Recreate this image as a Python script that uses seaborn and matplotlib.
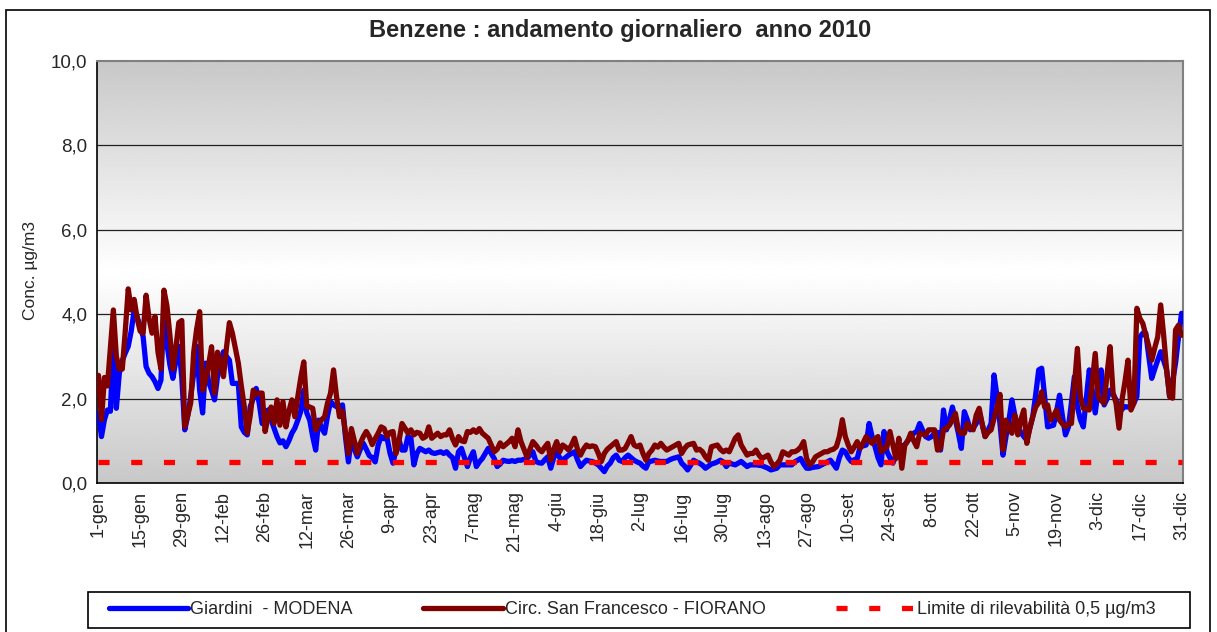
import numpy as np
import pandas as pd
import matplotlib
matplotlib.use("Agg")
import matplotlib.pyplot as plt
import seaborn as sns
from matplotlib.patches import Rectangle
from matplotlib.lines import Line2D
from matplotlib.ticker import FuncFormatter, MultipleLocator

sns.set_style("white")
plt.rcParams['font.family'] = ['Liberation Sans', 'DejaVu Sans']

title = "Benzene : andamento giornaliero  anno 2010"
ylabel = "Conc. µg/m3"
tick_labels = ["1-gen", "15-gen", "29-gen", "12-feb", "26-feb", "12-mar", "26-mar",
               "9-apr", "23-apr", "7-mag", "21-mag", "4-giu", "18-giu", "2-lug",
               "16-lug", "30-lug", "13-ago", "27-ago", "10-set", "24-set", "8-ott",
               "22-ott", "5-nov", "19-nov", "3-dic", "17-dic", "31-dic"]
name_modena = "Giardini  - MODENA"
name_fiorano = "Circ. San Francesco - FIORANO"
name_limit = "Limite di rilevabilità 0,5 µg/m3"
limit_value = 0.5

modena = [
    1.66, 1.1, 1.5, 1.73, 1.7, 3.31, 1.77, 2.6, 2.9, 3.08,
    3.24, 3.6, 4.1, 3.94, 3.7, 3.47, 2.76, 2.6, 2.52, 2.4,
    2.24, 2.44, 4.2, 3.3, 2.8, 2.48, 2.9, 3.24, 2.5, 1.26,
    1.6, 2.05, 2.6, 3.24, 2.2, 1.66, 2.84, 2.4, 2.2, 1.97,
    2.52, 2.8, 3.11, 3.0, 2.91, 2.36, 2.36, 2.36, 1.33, 1.2,
    1.14, 1.81, 2.0, 2.24, 1.9, 1.41, 1.5, 1.73, 1.5, 1.3,
    1.1, 0.95, 1.0, 0.86, 1.0, 1.18, 1.3, 1.49, 1.7, 2.2,
    1.66, 1.49, 1.1, 0.78, 1.49, 1.3, 1.18, 1.6, 1.93, 1.85,
    1.81, 1.8, 1.85, 1.1, 0.5, 1.1, 0.8, 0.62, 0.8, 0.94,
    0.8, 0.65, 0.6, 0.5, 0.9, 1.1, 1.05, 1.06, 0.7, 0.47,
    0.8, 1.02, 0.78, 0.78, 1.1, 1.06, 0.43, 0.7, 0.82, 0.78,
    0.74, 0.78, 0.72, 0.7, 0.72, 0.74, 0.7, 0.74, 0.66, 0.6,
    0.35, 0.74, 0.82, 0.6, 0.39, 0.6, 0.74, 0.39, 0.5, 0.58,
    0.7, 0.82, 0.7, 0.58, 0.39, 0.45, 0.54, 0.52, 0.51, 0.53,
    0.51, 0.54, 0.54, 0.56, 0.58, 0.66, 0.74, 0.51, 0.48, 0.47,
    0.55, 0.62, 0.35, 0.6, 0.74, 0.6, 0.54, 0.6, 0.66, 0.7,
    0.74, 0.55, 0.39, 0.47, 0.54, 0.52, 0.51, 0.47, 0.43, 0.35,
    0.27, 0.4, 0.47, 0.6, 0.66, 0.54, 0.51, 0.6, 0.66, 0.6,
    0.54, 0.5, 0.47, 0.4, 0.35, 0.51, 0.52, 0.54, 0.52, 0.51,
    0.51, 0.51, 0.55, 0.58, 0.6, 0.62, 0.47, 0.4, 0.31, 0.42,
    0.54, 0.5, 0.47, 0.42, 0.35, 0.4, 0.45, 0.47, 0.5, 0.54,
    0.5, 0.39, 0.47, 0.45, 0.43, 0.47, 0.51, 0.45, 0.39, 0.43,
    0.43, 0.43, 0.42, 0.41, 0.38, 0.35, 0.31, 0.33, 0.35, 0.43,
    0.43, 0.43, 0.43, 0.43, 0.5, 0.54, 0.58, 0.45, 0.35, 0.35,
    0.37, 0.38, 0.39, np.nan, np.nan, np.nan, 0.54, 0.45, 0.35, 0.6,
    0.78, 0.74, 0.6, 0.51, 0.55, 0.58, 0.86, 0.88, 0.9, 1.41,
    1.1, 0.86, 0.6, 0.43, 1.22, 0.74, 0.6, 0.47, 0.65, 0.86,
    0.88, 0.9, 1.0, 1.1, 1.18, 1.22, 1.41, 1.25, 1.1, 1.06,
    1.1, 1.18, 1.2, 0.78, 1.73, 1.26, 1.5, 1.8, 1.5, 1.18,
    0.82, 1.69, 1.5, 1.26, 1.3, 1.41, 1.69, 1.4, 1.1, 1.25,
    1.41, 2.56, 2.05, 1.4, 0.66, 1.1, 1.49, 1.97, 1.6, 1.34,
    1.2, 1.1, 1.02, 1.3, 1.57, 2.1, 2.68, 2.72, 2.05, 1.33,
    1.35, 1.37, 1.7, 2.08, 1.57, 1.14, 1.33, 1.9, 2.52, 1.81,
    1.5, 1.33, 2.0, 2.68, 2.2, 1.66, 2.2, 2.68, 1.85, 2.0,
    2.2, 2.1, 1.97, 1.66, 1.75, 1.81, 1.8, 1.81, 1.9, 2.05,
    3.46, 3.55, 3.55, 3.0, 2.48, 2.7, 2.91, 3.11, 2.9, 2.68,
    2.05, 2.4, 2.84, 3.46, 4.02,
]

fiorano = [
    2.55, 1.5, 2.5, 2.3, 3.2, 4.1, 3.0, 2.7, 2.7, 3.6,
    4.6, 4.1, 4.35, 3.9, 3.6, 3.55, 4.45, 3.9, 3.55, 3.95,
    3.1, 2.7, 4.57, 4.2, 3.5, 2.7, 3.2, 3.8, 3.85, 1.33,
    1.6, 1.9, 3.1, 3.65, 4.06, 2.2, 2.44, 2.8, 3.23, 2.13,
    3.1, 2.9, 2.52, 3.2, 3.8, 3.55, 3.2, 2.84, 2.3, 1.81,
    1.18, 1.6, 2.2, 2.1, 2.13, 2.13, 1.22, 1.57, 1.8, 1.41,
    1.97, 1.37, 1.93, 1.33, 1.7, 1.97, 1.57, 2.05, 2.5, 2.87,
    1.81, 1.8, 1.77, 1.26, 1.41, 1.5, 1.57, 1.9, 2.13, 2.68,
    2.05, 1.57, 1.7, 1.2, 0.7, 1.29, 1.0, 0.7, 0.94, 1.1,
    1.22, 1.1, 0.91, 1.05, 1.18, 1.33, 1.29, 1.1, 1.2, 1.22,
    0.7, 1.0, 1.41, 1.3, 1.18, 1.26, 1.14, 1.2, 1.18, 1.06,
    1.1, 1.33, 1.06, 1.12, 1.18, 1.1, 1.14, 1.14, 1.26, 1.05,
    0.9, 1.1, 1.0, 0.98, 1.22, 1.2, 1.26, 1.2, 1.29, 1.18,
    1.12, 1.06, 0.9, 0.74, 0.8, 0.95, 0.86, 0.92, 0.98, 1.06,
    0.86, 1.26, 0.98, 0.8, 0.62, 0.8, 0.98, 0.9, 0.8, 0.74,
    0.85, 0.94, 0.54, 0.8, 0.98, 0.74, 0.9, 0.85, 0.78, 0.9,
    1.06, 0.8, 0.66, 0.8, 0.9, 0.86, 0.88, 0.86, 0.7, 0.51,
    0.7, 0.8, 0.86, 0.92, 0.98, 0.78, 0.78, 0.82, 0.95, 1.1,
    0.9, 0.86, 0.9, 0.7, 0.54, 0.7, 0.78, 0.9, 0.85, 0.94,
    0.85, 0.78, 0.82, 0.86, 0.9, 0.94, 0.7, 0.82, 0.9, 0.92,
    0.94, 0.78, 0.8, 0.74, 0.62, 0.54, 0.86, 0.88, 0.9, 0.8,
    0.74, 0.78, 0.74, 0.9, 1.06, 1.14, 0.9, 0.78, 0.66, 0.7,
    0.7, 0.78, 0.66, 0.58, 0.62, 0.66, 0.5, 0.39, 0.45, 0.54,
    0.74, 0.7, 0.66, 0.74, 0.74, 0.78, 0.85, 0.98, 0.58, 0.43,
    0.5, 0.62, 0.66, 0.7, 0.74, 0.74, 0.78, 0.8, 0.86, 1.1,
    1.5, 1.1, 0.9, 0.74, 0.85, 0.98, 0.82, 0.95, 1.1, 1.0,
    0.94, 1.05, 1.1, 0.74, 0.8, 0.86, 1.22, 0.9, 0.58, 1.06,
    0.35, 0.9, 1.0, 1.18, 1.0, 0.86, 1.18, 1.16, 1.14, 1.26,
    1.26, 1.26, 0.78, 0.82, 1.26, 1.3, 1.37, 1.5, 1.65, 1.26,
    1.18, 1.18, 1.41, 1.3, 1.26, 1.61, 1.77, 1.4, 1.1, 1.2,
    1.26, 1.53, 1.8, 2.1, 0.78, 1.49, 1.3, 1.18, 1.61, 1.14,
    1.5, 1.73, 0.94, 1.3, 1.57, 1.8, 1.9, 2.16, 1.8, 1.85,
    1.49, 1.6, 1.73, 1.49, 1.4, 1.33, 1.4, 1.41, 2.3, 3.19,
    2.05, 1.77, 1.75, 1.73, 2.4, 3.07, 2.05, 1.95, 1.89, 2.6,
    3.23, 2.13, 1.89, 1.3, 1.97, 2.4, 2.91, 1.73, 1.89, 4.14,
    3.9, 3.78, 3.5, 3.24, 2.91, 3.2, 3.46, 4.22, 3.5, 2.68,
    2.05, 2.01, 3.63, 3.74, 3.5,
]

days = np.arange(len(fiorano))
df = pd.DataFrame({"day": days, "modena": modena, "fiorano": fiorano})
df["limit"] = limit_value

W, H = 1217, 632
fig = plt.figure(figsize=(W / 100, H / 100), dpi=100)
fig.patch.set_facecolor("white")
L, R, T, B = 97, 1183, 61, 483
ax = fig.add_axes([L / W, 1 - B / H, (R - L) / W, (B - T) / H])

# gradient background (gray at top and bottom, white in the middle)
g = 1 - 0.215 * np.abs(np.linspace(-1, 1, 256))
img = np.tile(g[:, None], (1, 2))
ax.imshow(img, cmap="gray", vmin=0, vmax=1, extent=[-0.5, len(days) - 0.5, 0, 10],
          aspect="auto", origin="lower", zorder=0, interpolation="bilinear")

for yv in [2, 4, 6, 8]:
    ax.axhline(yv, color="#202020", lw=0.9, zorder=1)

sns.lineplot(data=df, x="day", y="modena", color="#0000FF", lw=3.8, ax=ax,
             zorder=3, legend=False)
sns.lineplot(data=df, x="day", y="fiorano", color="#800000", lw=3.8, ax=ax,
             zorder=4, legend=False)
sns.lineplot(data=df, x="day", y="limit", color="#FF0000", lw=3.8, ax=ax,
             zorder=5, legend=False, linestyle=(0, (2.1, 4.1)), dash_capstyle="butt")

ax.set_xlim(-0.5, len(days) - 0.5)
ax.set_ylim(0, 10)
ax.set_xlabel("")
ax.set_ylabel("")
ax.set_xticks(np.arange(0, len(days), 14))
ax.set_xticklabels(tick_labels, rotation=90, fontsize=13)
ax.xaxis.set_minor_locator(MultipleLocator(1))
ax.set_yticks(np.arange(0, 11, 2))
ax.yaxis.set_major_formatter(FuncFormatter(lambda v, p: f"{v:.1f}".replace(".", ",")))
ax.tick_params(axis="y", labelsize=13.5, direction="out", length=4, width=1, color="black", pad=3)
ax.tick_params(axis="x", which="major", direction="out", length=4, width=1, color="black", pad=2)
ax.tick_params(axis="x", which="minor", direction="out", length=4, width=0.8, color="black")

for s in ["left", "bottom"]:
    ax.spines[s].set_color("black")
    ax.spines[s].set_linewidth(1.2)
for s in ["top", "right"]:
    ax.spines[s].set_color("#808080")
    ax.spines[s].set_linewidth(1.5)

fig.text(620 / W, 1 - 30 / H, title, ha="center", va="center", fontsize=17, fontweight="bold")
fig.text(30 / W, 1 - 270 / H, ylabel, ha="center", va="center", rotation=90, fontsize=12.5)

# outer chart border
fig.add_artist(Rectangle((6 / W, -0.02), (1210 - 6) / W, 1.02 - 10 / H,
                         transform=fig.transFigure, fill=False, edgecolor="black", lw=1.2))

handles = [Line2D([], [], color="#0000FF", lw=3.8),
           Line2D([], [], color="#800000", lw=3.8),
           Line2D([], [], color="#FF0000", lw=3.8, linestyle=(0, (2.1, 4.1)), dash_capstyle="butt")]
leg = fig.legend(handles, [name_modena, name_fiorano, name_limit], loc="center",
                 bbox_to_anchor=(100 / W, 1 - 628 / H, (1165 - 100) / W, 36 / H),
                 mode="expand", ncol=3, frameon=False, fontsize=13,
                 handlelength=4.4, handletextpad=0.1, borderaxespad=0, borderpad=0.5)
fig.add_artist(Rectangle((88 / W, 1 - 628 / H), (1190 - 88) / W, 36 / H,
                         transform=fig.transFigure, fill=False, edgecolor="black", lw=1.2))

fig.savefig("out.png", dpi=100)
